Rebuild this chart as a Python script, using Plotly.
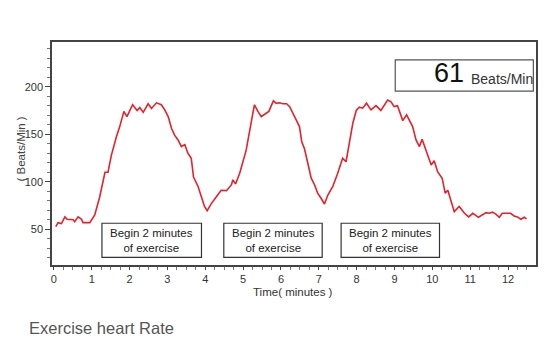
import plotly.graph_objects as go

# time in minutes
time_min = [0.05, 0.11, 0.20, 0.29, 0.35, 0.51, 0.55, 0.64, 0.73, 0.77, 0.95, 1.08, 1.21, 1.35, 1.43,
            1.52, 1.65, 1.74, 1.85, 1.93, 2.08, 2.20, 2.27, 2.36, 2.49, 2.58, 2.71, 2.84, 2.93, 3.02,
            3.11, 3.19, 3.28, 3.37, 3.46, 3.54, 3.63, 3.69, 3.81, 3.90, 3.98, 4.05, 4.16, 4.29, 4.42,
            4.56, 4.69, 4.73, 4.80, 4.91, 5.08, 5.21, 5.30, 5.39, 5.48, 5.57, 5.68, 5.80, 5.87, 5.96,
            6.05, 6.15, 6.23, 6.36, 6.49, 6.55, 6.62, 6.71, 6.80, 6.89, 6.97, 7.06, 7.15, 7.24, 7.37,
            7.50, 7.63, 7.72, 7.81, 7.90, 7.99, 8.07, 8.16, 8.26, 8.38, 8.51, 8.64, 8.82, 8.91, 8.99,
            9.08, 9.22, 9.32, 9.44, 9.48, 9.57, 9.66, 9.73, 9.85, 9.97, 10.05, 10.14, 10.26, 10.34,
            10.41, 10.49, 10.58, 10.71, 10.85, 10.96, 11.07, 11.22, 11.42, 11.50, 11.59, 11.68, 11.77,
            11.85, 12.07, 12.16, 12.25, 12.34, 12.43, 12.49]
# heart rate (beats/min)
heart_rate = [52.7, 57, 56, 63, 60.5, 60, 58, 63, 60.5, 57, 57, 65, 84, 110, 110,
              128, 147, 158, 174, 168.5, 181, 175, 178, 173, 182, 177, 183, 181, 175.6, 168.5,
              156, 149, 144, 137, 139, 130, 124.7, 105, 95, 84, 74, 69.6, 77, 84, 91,
              90.6, 96.6, 102, 97.7, 109, 133, 161.6, 181, 174, 168.5, 171, 174, 185, 182.6, 183,
              182, 182, 179, 168.5, 158, 142, 135, 119.5, 103.7, 96.6, 88, 82.6, 76.6, 86, 95,
              109, 124.7, 121, 142, 161.6, 175, 178.4, 177.4, 182.6, 175.6, 180, 175, 186, 184, 179,
              180, 164.3, 170.3, 161.6, 158, 144, 137, 144.7, 131.7, 117.7, 122, 110.6, 103.7, 88,
              91, 81, 68.5, 74, 66.8, 63, 66.8, 62.6, 67.5, 66.8, 68, 66, 62.6,
              66.8, 66.8, 64, 63, 60.5, 62.6, 61]

x_ticks = list(range(0, 13))
y_ticks = [50, 100, 150, 200]

# exercise periods (start, end in minutes) for label boxes
exercise_label = "Begin 2 minutes<br>of exercise"
box_starts = [1.27, 4.49, 7.59]
box_ends = [3.90, 7.09, 10.19]

title_text = "Exercise heart Rate"
readout_unit = "Beats/Min"
x_title = "Time( minutes )"
y_title = "( Beats/Min )"

FONT = "Liberation Sans, Arial, sans-serif"
AX = "#444444"

fig = go.Figure()
fig.add_trace(go.Scatter(x=time_min, y=heart_rate, mode="lines",
                         line=dict(color="#e8202a", width=1.6), showlegend=False,
                         hoverinfo="skip"))

shapes = []
annotations = []
for s, e in zip(box_starts, box_ends):
    shapes.append(dict(type="rect", xref="x", yref="y", x0=s, x1=e, y0=20.5, y1=56.3,
                       line=dict(color="#333333", width=1.2), fillcolor="white", layer="above"))
    annotations.append(dict(x=(s + e) / 2, y=38.4, xref="x", yref="y", text=exercise_label,
                            showarrow=False, font=dict(family=FONT, size=11.5, color="#222222"),
                            align="center", xanchor="center", yanchor="middle"))

# readout box
shapes.append(dict(type="rect", xref="x", yref="y", x0=9.02, x1=12.67, y0=195.3, y1=228.2,
                   line=dict(color="#555555", width=1.2), fillcolor="white", layer="above"))
readout_val = str(int(round(heart_rate[-1])))
annotations.append(dict(x=10.9, y=197.0, xref="x", yref="y", text=readout_val, showarrow=False,
                        font=dict(family=FONT, size=27, color="#111111"),
                        xanchor="right", yanchor="bottom"))
annotations.append(dict(x=12.72, y=197.4, xref="x", yref="y", text=readout_unit, showarrow=False,
                        font=dict(family=FONT, size=14, color="#333333"),
                        xanchor="right", yanchor="bottom"))

# axis titles and chart title
annotations.append(dict(x=(292.5 - 52) / 484, y=(265 - 291.5) / 223, xref="paper", yref="paper",
                        text=x_title, showarrow=False,
                        font=dict(family=FONT, size=11.5, color="#333333"),
                        xanchor="center", yanchor="middle"))
annotations.append(dict(x=(20.5 - 52) / 484, y=(265 - 149) / 223, xref="paper", yref="paper",
                        text=y_title, showarrow=False, textangle=-90,
                        font=dict(family=FONT, size=11.5, color="#444444"),
                        xanchor="center", yanchor="middle"))
annotations.append(dict(x=(27 - 52) / 484, y=(265 - 328) / 223, xref="paper", yref="paper",
                        text=title_text, showarrow=False,
                        font=dict(family=FONT, size=16.5, color="#555555"),
                        xanchor="left", yanchor="middle"))

fig.update_layout(
    width=550, height=351,
    margin=dict(l=52, r=14, t=42, b=86),
    paper_bgcolor="white", plot_bgcolor="white",
    font=dict(family=FONT, size=11, color="#333333"),
    shapes=shapes, annotations=annotations,
    xaxis=dict(range=[-0.05, 12.74], tickvals=x_ticks, ticks="outside", ticklen=3, tickwidth=1,
               tickcolor=AX, showline=True, linecolor=AX, linewidth=1.5, mirror=True,
               showgrid=False, zeroline=False, automargin=False,
               minor=dict(dtick=0.25, tick0=0, ticks="outside", ticklen=3, tickcolor="#777777"),
               tickfont=dict(size=11, color="#333333")),
    yaxis=dict(range=[12.4, 247], tickvals=y_ticks, ticks="outside", ticklen=5, tickwidth=1,
               tickcolor=AX, showline=True, linecolor=AX, linewidth=1.5, mirror=True,
               showgrid=False, zeroline=False, automargin=False,
               minor=dict(dtick=10, tick0=0, ticks="outside", ticklen=3, tickcolor="#777777"),
               tickfont=dict(size=11, color="#333333")),
)

fig.write_html("out.html")
